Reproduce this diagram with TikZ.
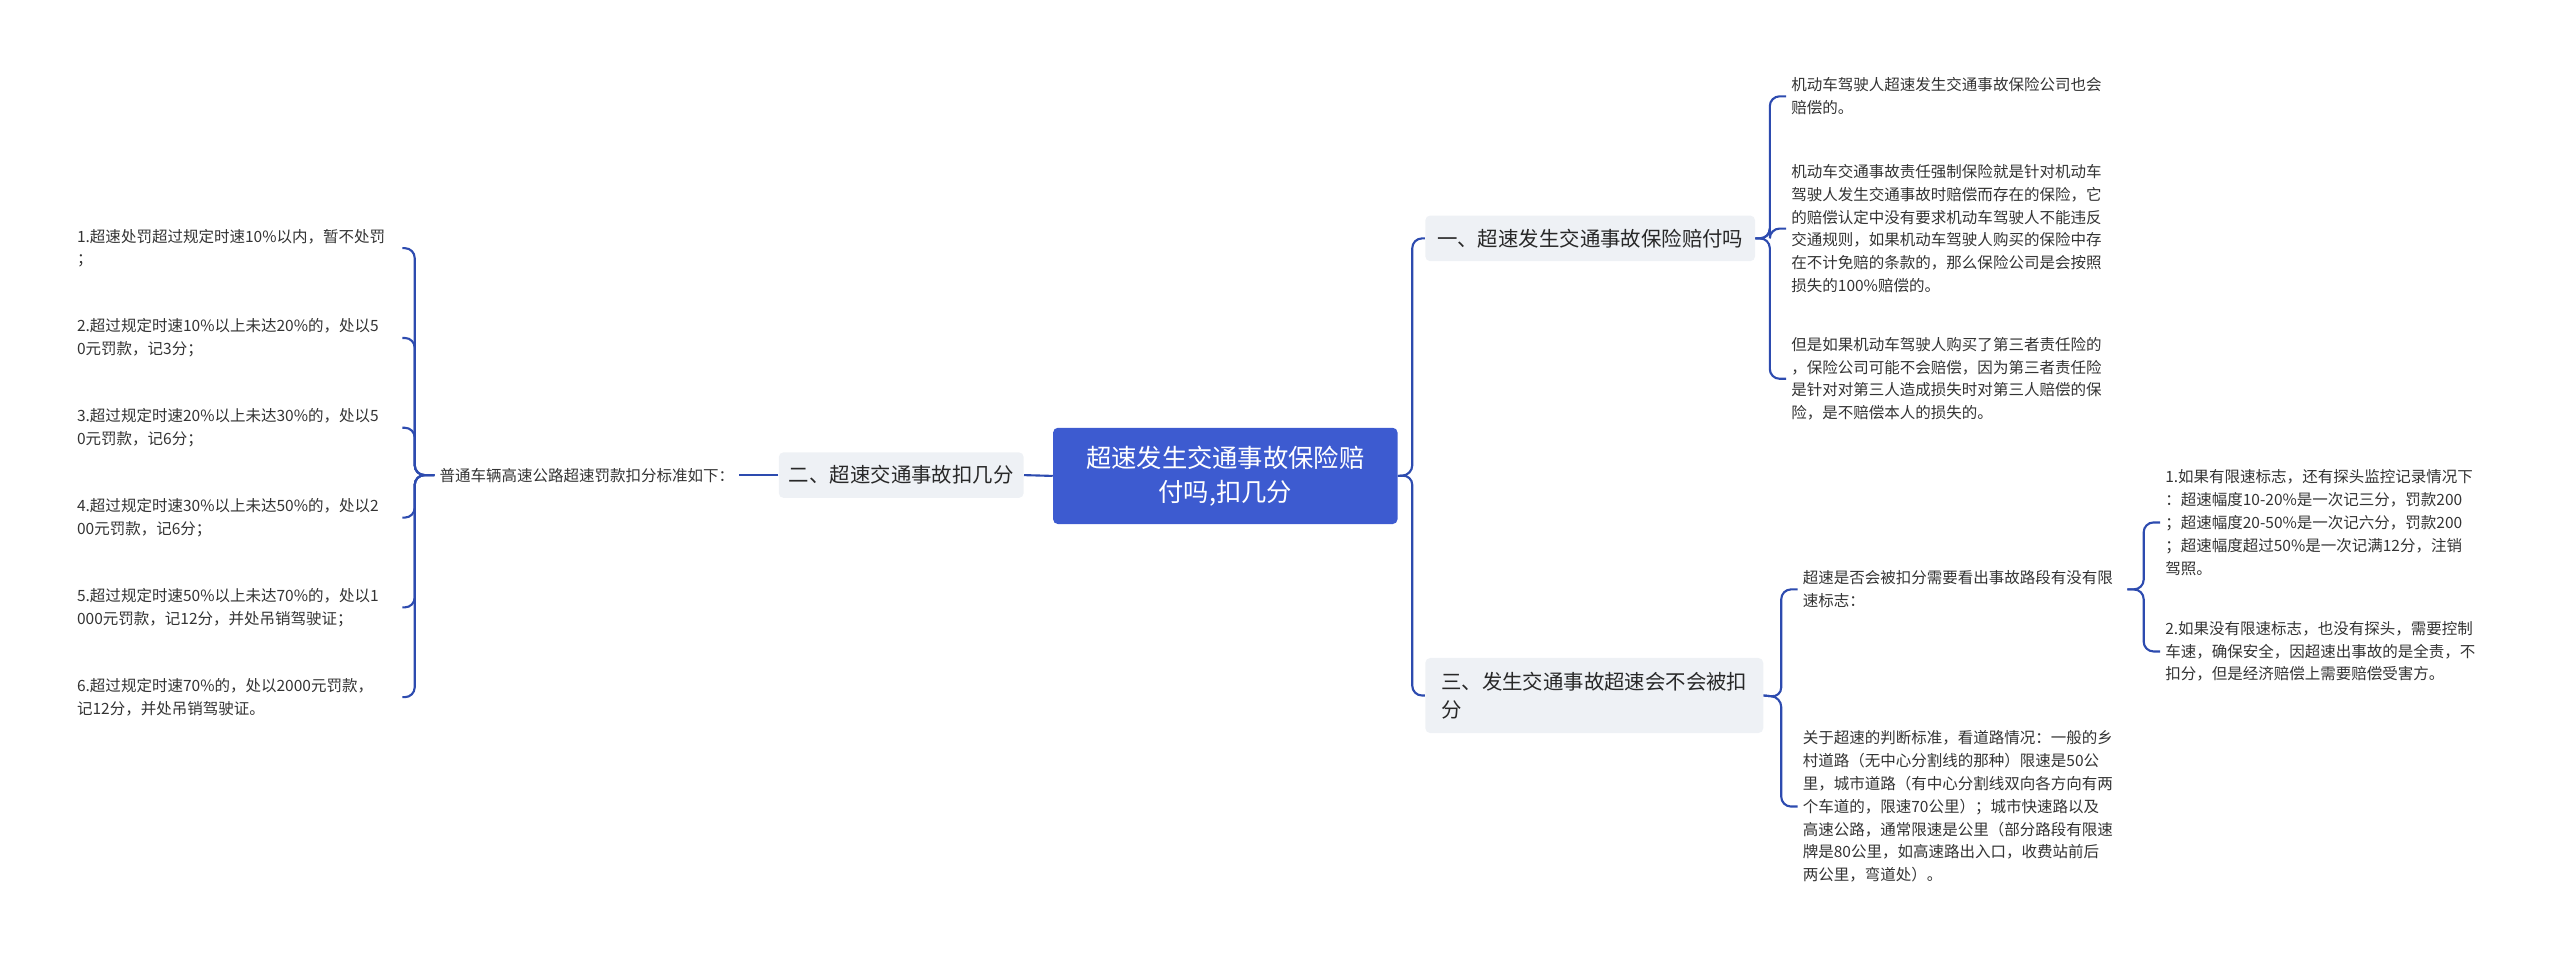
\documentclass[tikz,border=0pt]{standalone}
\usepackage{fontspec}
\setmainfont{Noto Sans CJK SC}
\begin{document}
\begin{tikzpicture}[x=1pt,y=-1pt,
 conn/.style={draw={rgb,255:red,45;green,75;blue,175},line width=1.3pt,rounded corners=6pt},
 leaf/.style={anchor=west,align=left,inner xsep=3pt,inner ysep=2pt,text={rgb,255:red,51;green,51;blue,51},font=\fontsize{9.5}{14}\selectfont},
 br/.style={fill={rgb,255:red,238;green,241;blue,245},rounded corners=3pt,text={rgb,255:red,40;green,40;blue,40},font=\fontsize{12.5}{17}\selectfont,inner sep=0pt}]
\useasboundingbox (0,0) rectangle (1568,584);
\node[fill={rgb,255:red,61;green,91;blue,208},rounded corners=3pt,minimum width=211pt,minimum height=59pt,inner sep=0pt,align=center,text=white,font=\fontsize{15.5}{21}\selectfont] (root) at (750.5,291.5) {超速发生交通事故保险赔\\付吗,扣几分};
\node[br,minimum width=202pt,minimum height=28pt] (b1) at (974,146) {一、超速发生交通事故保险赔付吗};
\node[br,minimum width=150pt,minimum height=28pt] (b2) at (552,291) {二、超速交通事故扣几分};
\node[br,minimum width=207pt,minimum height=46pt,align=left] (b3) at (976.5,426) {三、发生交通事故超速会不会被扣\\分};
\coordinate (hr) at (865,291);
\draw[conn] (root.east) -- (hr) |- (b1.west);
\draw[conn] (root.east) -- (hr) |- (b3.west);
\draw[conn] (root.west) -- (b2.east);
% B1 leaves
\node[leaf] (a1) at (1094,59) {机动车驾驶人超速发生交通事故保险公司也会\\赔偿的。};
\node[leaf] (a2) at (1094,140) {机动车交通事故责任强制保险就是针对机动车\\驾驶人发生交通事故时赔偿而存在的保险，它\\的赔偿认定中没有要求机动车驾驶人不能违反\\交通规则，如果机动车驾驶人购买的保险中存\\在不计免赔的条款的，那么保险公司是会按照\\损失的100\%赔偿的。};
\node[leaf] (a3) at (1094,232) {但是如果机动车驾驶人购买了第三者责任险的\\，保险公司可能不会赔偿，因为第三者责任险\\是针对对第三人造成损失时对第三人赔偿的保\\险，是不赔偿本人的损失的。};
\coordinate (h1) at (1084,146);
\foreach \n in {a1,a2,a3} \draw[conn] (b1.east) -- (h1) |- (\n.west);
% B3 leaves
\node[leaf] (c1) at (1101,361) {超速是否会被扣分需要看出事故路段有没有限\\速标志：};
\node[leaf] (c2) at (1101,494) {关于超速的判断标准，看道路情况：一般的乡\\村道路（无中心分割线的那种）限速是50公\\里，城市道路（有中心分割线双向各方向有两\\个车道的，限速70公里）；城市快速路以及\\高速公路，通常限速是公里（部分路段有限速\\牌是80公里，如高速路出入口，收费站前后\\两公里，弯道处）。};
\coordinate (h3) at (1091,427);
\foreach \n in {c1,c2} \draw[conn] (b3.east) -- (h3) |- (\n.west);
\node[leaf] (d1) at (1323,320) {1.如果有限速标志，还有探头监控记录情况下\\：超速幅度10-20\%是一次记三分，罚款200\\；超速幅度20-50\%是一次记六分，罚款200\\；超速幅度超过50\%是一次记满12分，注销\\驾照。};
\node[leaf] (d2) at (1323,399) {2.如果没有限速标志，也没有探头，需要控制\\车速，确保安全，因超速出事故的是全责，不\\扣分，但是经济赔偿上需要赔偿受害方。};
\coordinate (c1e) at (1303,361);
\coordinate (h4) at (1313,361);
\foreach \n in {d1,d2} \draw[conn] (c1e) -- (h4) |- (\n.west);
% B2 leaves
\node[leaf] (m) at (266,291) {普通车辆高速公路超速罚款扣分标准如下：};
\draw[conn] (b2.west) -- (m.east);
\node[leaf,text width=196pt] (l1) at (44,152) {1.超速处罚超过规定时速10\%以内，暂不处罚\\；};
\node[leaf,text width=196pt] (l2) at (44,207) {2.超过规定时速10\%以上未达20\%的，处以5\\0元罚款，记3分；};
\node[leaf,text width=196pt] (l3) at (44,262) {3.超过规定时速20\%以上未达30\%的，处以5\\0元罚款，记6分；};
\node[leaf,text width=196pt] (l4) at (44,317) {4.超过规定时速30\%以上未达50\%的，处以2\\00元罚款，记6分；};
\node[leaf,text width=196pt] (l5) at (44,372) {5.超过规定时速50\%以上未达70\%的，处以1\\000元罚款，记12分，并处吊销驾驶证；};
\node[leaf,text width=196pt] (l6) at (44,427) {6.超过规定时速70\%的，处以2000元罚款，\\记12分，并处吊销驾驶证。};
\coordinate (h2) at (254,291);
\foreach \n in {l1,l2,l3,l4,l5,l6} \draw[conn] (m.west) -- (h2) |- (\n.east);
\end{tikzpicture}
\end{document}
